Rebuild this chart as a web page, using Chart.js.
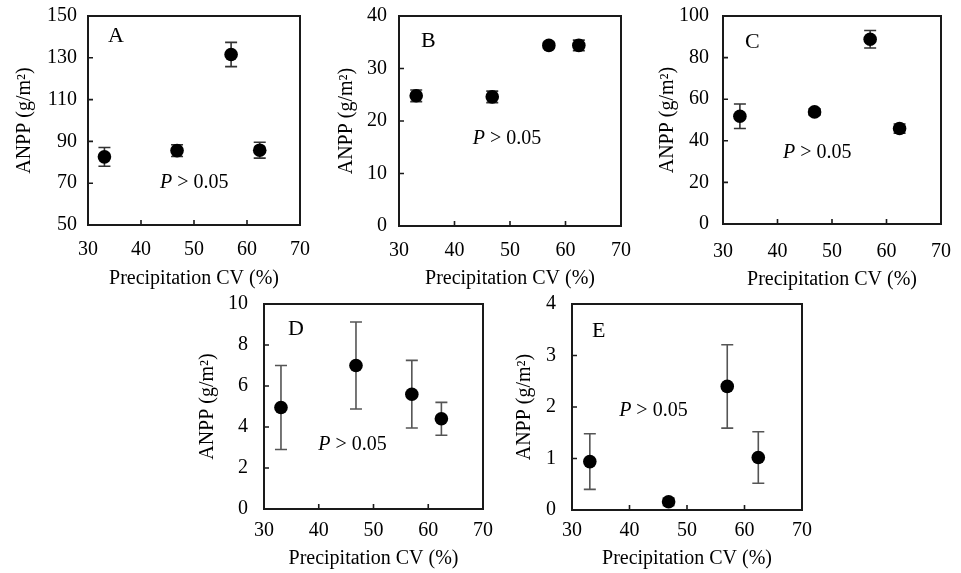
<!DOCTYPE html>
<html><head><meta charset="utf-8">
<script src="https://cdn.jsdelivr.net/npm/chart.js@4.4.1/dist/chart.umd.min.js"></script>
<style>
html,body{margin:0;padding:0;background:#fff;width:961px;height:573px;overflow:hidden}
body{position:relative}
canvas{position:absolute}
</style></head><body>
<script>
// Precipitation CV (%) of the four sites (x values, shared by all panels)
const cvValues = [33.1, 46.8, 57.0, 62.4];

// ANPP (g/m2) means and error bars per panel
const anppA = [82.6, 85.6, 131.6, 85.8];
const errA  = [4.5, 2.8, 5.8, 3.8];
const anppB = [24.8, 24.6, 34.4, 34.4];
const errB  = [1.1, 1.1, 0.6, 1.0];
const anppC = [51.8, 53.9, 88.8, 45.9];
const errC  = [5.9, 1.5, 4.2, 2.2];
const anppD = [4.95, 7.0, 5.6, 4.4];
const errD  = [2.05, 2.12, 1.65, 0.8];
const anppE = [0.94, 0.16, 2.40, 1.02];
const errE  = [0.54, 0.07, 0.81, 0.5];

// Axis ranges: [min, max, step]
const xRange = [30, 70, 10];
const yRangeA = [50, 150, 20];
const yRangeB = [0, 40, 10];
const yRangeC = [0, 100, 20];
const yRangeD = [0, 10, 2];
const yRangeE = [0, 4, 1];

const panelLetters = ['A', 'B', 'C', 'D', 'E'];
const xTitle = 'Precipitation CV (%)';
const yTitle = 'ANPP (g/m\u00B2)';
const pItalic = 'P';
const pRest = ' > 0.05';

const FAMILY = '"Liberation Serif", "Times New Roman", serif';
const TICK_SIZE = 20, TITLE_SIZE = 20, LETTER_SIZE = 22, P_SIZE = 20;

// layout (pixel positions) per panel
const panels = [
  {y: anppA, e: errA, yr: yRangeA, letter: panelLetters[0], plot: [88, 16, 300, 225], yTitleX: 25, xTitleY: 279, yPad: 11, xPad: 13, pAt: [43.6, 70.4], bar: '#333', lx: 20, ly: 20},
  {y: anppB, e: errB, yr: yRangeB, letter: panelLetters[1], plot: [399, 16, 621, 226], yTitleX: 347, xTitleY: 279, yPad: 12, xPad: 13, pAt: [43.3, 16.6], bar: '#333', lx: 22, ly: 25},
  {y: anppC, e: errC, yr: yRangeC, letter: panelLetters[2], plot: [723, 16, 941, 224], yTitleX: 668, xTitleY: 280, yPad: 14, xPad: 16, pAt: [41.0, 34.4], bar: '#333', lx: 22, ly: 26},
  {y: anppD, e: errD, yr: yRangeD, letter: panelLetters[3], plot: [264, 304, 483, 509], yTitleX: 208, xTitleY: 559, yPad: 16, xPad: 10, pAt: [39.9, 3.15], bar: '#555', lx: 24, ly: 25},
  {y: anppE, e: errE, yr: yRangeE, letter: panelLetters[4], plot: [572, 304, 802, 510], yTitleX: 525, xTitleY: 559, yPad: 16, xPad: 9, pAt: [38.2, 1.93], bar: '#555', lx: 20, ly: 27}
];

function deco(p) {
  return {
    id: 'deco',
    beforeDatasetsDraw(chart) {
      const ctx = chart.ctx, xs = chart.scales.x, ys = chart.scales.y;
      ctx.save();
      ctx.strokeStyle = p.bar;
      ctx.lineWidth = 1.6;
      cvValues.forEach((cv, i) => {
        const x = xs.getPixelForValue(cv);
        const y1 = ys.getPixelForValue(p.y[i] + p.e[i]);
        const y2 = ys.getPixelForValue(p.y[i] - p.e[i]);
        ctx.beginPath();
        ctx.moveTo(x, y1); ctx.lineTo(x, y2);
        ctx.moveTo(x - 6, y1); ctx.lineTo(x + 6, y1);
        ctx.moveTo(x - 6, y2); ctx.lineTo(x + 6, y2);
        ctx.stroke();
      });
      ctx.restore();
    },
    afterDatasetsDraw(chart) {
      const ctx = chart.ctx, xs = chart.scales.x, ys = chart.scales.y;
      const a = chart.chartArea;
      ctx.save();
      ctx.strokeStyle = '#1a1a1a';
      ctx.lineWidth = 2;
      ctx.strokeRect(a.left, a.top, a.right - a.left, a.bottom - a.top);
      ctx.lineWidth = 1.6;
      ctx.beginPath();
      xs.ticks.forEach(t => {
        if (t.value <= xs.min || t.value >= xs.max) return;
        const x = xs.getPixelForValue(t.value);
        ctx.moveTo(x, a.bottom); ctx.lineTo(x, a.bottom - 5);
      });
      ys.ticks.forEach(t => {
        if (t.value <= ys.min || t.value >= ys.max) return;
        const y = ys.getPixelForValue(t.value);
        ctx.moveTo(a.left, y); ctx.lineTo(a.left + 5, y);
      });
      ctx.stroke();
      // panel letter
      ctx.fillStyle = '#000';
      ctx.textBaseline = 'middle';
      ctx.textAlign = 'left';
      ctx.font = LETTER_SIZE + 'px ' + FAMILY;
      ctx.fillText(p.letter, a.left + p.lx, a.top + p.ly);
      // P > 0.05
      const px = xs.getPixelForValue(p.pAt[0]);
      const py = ys.getPixelForValue(p.pAt[1]);
      ctx.font = 'italic ' + P_SIZE + 'px ' + FAMILY;
      ctx.fillText(pItalic, px, py);
      const w = ctx.measureText(pItalic).width;
      ctx.font = P_SIZE + 'px ' + FAMILY;
      ctx.fillText(pRest, px + w, py);
      ctx.restore();
    }
  };
}

function build(p) {
  const [l, t, r, b] = p.plot;
  const cL = l - 80, cT = t - 16, cR = r + 25, cB = p.xTitleY + 14;
  const W = cR - cL, H = cB - cT;
  const cv = document.createElement('canvas');
  cv.width = W; cv.height = H;
  cv.style.left = cL + 'px'; cv.style.top = cT + 'px';
  cv.style.width = W + 'px'; cv.style.height = H + 'px';
  document.body.appendChild(cv);
  const lh = TITLE_SIZE * 1.2;
  new Chart(cv, {
    type: 'scatter',
    data: {datasets: [{
      data: cvValues.map((x, i) => ({x: x, y: p.y[i]})),
      backgroundColor: '#000', borderColor: '#000', borderWidth: 0,
      pointRadius: 6.8, pointHoverRadius: 6.8
    }]},
    options: {
      responsive: false, animation: false, devicePixelRatio: 1,
      layout: {padding: {top: t - cT, right: cR - r, left: 0, bottom: 0}},
      plugins: {legend: {display: false}, tooltip: {enabled: false}},
      scales: {
        x: {
          type: 'linear', min: xRange[0], max: xRange[1],
          ticks: {stepSize: xRange[2], color: '#000', font: {family: FAMILY, size: TICK_SIZE}, padding: p.xPad, maxRotation: 0},
          grid: {display: false, drawTicks: false},
          border: {display: false},
          title: {display: true, text: xTitle, color: '#000', font: {family: FAMILY, size: TITLE_SIZE},
                  padding: {top: 0, bottom: cB - p.xTitleY - lh / 2}},
          afterFit(s) { s.height = cB - b; s.paddingLeft = 0; s.paddingRight = 0; }
        },
        y: {
          type: 'linear', min: p.yr[0], max: p.yr[1],
          ticks: {stepSize: p.yr[2], color: '#000', font: {family: FAMILY, size: TICK_SIZE}, padding: p.yPad},
          grid: {display: false, drawTicks: false},
          border: {display: false},
          title: {display: true, text: yTitle, color: '#000', font: {family: FAMILY, size: TITLE_SIZE},
                  padding: {top: p.yTitleX - cL - lh / 2, bottom: 0}},
          afterFit(s) { s.width = l - cL; s.paddingTop = 0; s.paddingBottom = 0; }
        }
      }
    },
    plugins: [deco(p)]
  });
}

panels.forEach(build);
</script>
</body></html>
